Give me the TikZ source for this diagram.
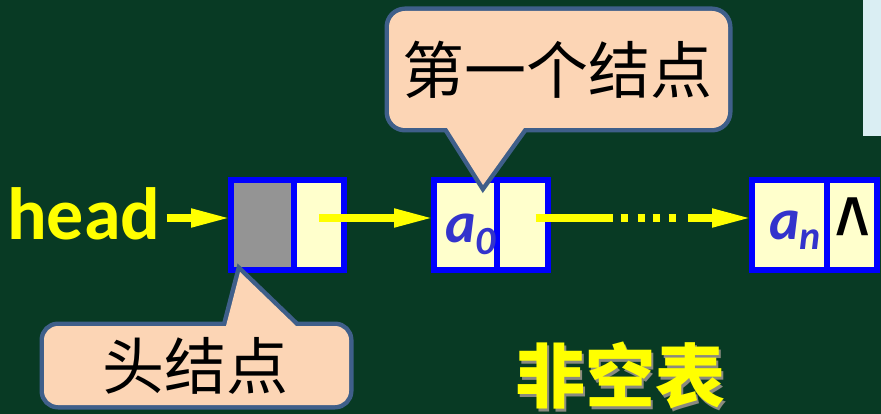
\documentclass[tikz,border=0pt]{standalone}
\usepackage{fontspec}
\setmainfont{Carlito}
\newfontfamily\cjk{Noto Sans CJK SC}
\newfontfamily\symf{Liberation Sans}
\usetikzlibrary{arrows.meta}
\definecolor{bg}{HTML}{083A24}
\definecolor{boxblue}{HTML}{0000FF}
\definecolor{cellfill}{HTML}{FFFFCC}
\definecolor{headgray}{HTML}{949494}
\definecolor{arrowyellow}{HTML}{FFFF00}
\definecolor{calfill}{HTML}{FCD5B5}
\definecolor{calborder}{HTML}{3F5F8A}
\definecolor{txtblue}{HTML}{3333CC}
\definecolor{paleblue}{HTML}{DAEEF3}
\definecolor{shadowgray}{HTML}{8A8A80}
\begin{document}
\begin{tikzpicture}[x=1pt,y=-1pt,
  cell/.style={draw=boxblue, fill=cellfill, line width=6pt, minimum height=90pt, inner sep=0pt, outer sep=0pt},
  arr/.style={draw=arrowyellow, line width=7.5pt, -{Triangle[length=40pt,width=17pt]}},
  calstroke/.style={draw=calborder, line width=9pt, line join=miter},
  calfil/.style={fill=calfill},
  cjktext/.style={inner sep=0pt, font=\cjk\fontsize{62}{62}\selectfont, text=black},
  lbl/.style={inner sep=0pt, text=txtblue, font=\bfseries\itshape\fontsize{58}{58}\selectfont}]
\fill[bg] (0,0) rectangle (881,414);
\useasboundingbox (0,0) rectangle (881,414);
\fill[paleblue] (863,0) rectangle (881,136);

% head label
\node[inner sep=0pt, anchor=base west, text=arrowyellow, font=\bfseries\fontsize{74}{74}\selectfont] (head) at (7,240) {head};

% cells
\node[cell, fill=headgray, minimum width=63pt] (n1a) at (262.5,225) {};
\node[cell, minimum width=50pt] (n1b) at (319,225) {};
\node[cell, minimum width=63pt] (n2a) at (465.5,225) {};
\node[cell, minimum width=51pt] (n2b) at (522.5,225) {};
\node[cell, minimum width=75pt] (n3a) at (789.5,225) {};
\node[cell, minimum width=50pt] (n3b) at (852,225) {};

\node[lbl, anchor=base west] (a0) at (445,243) {a\raisebox{-12pt}{\fontsize{40}{40}\selectfont 0}};
\node[lbl, anchor=base west] (an) at (769,240) {a\raisebox{-10pt}{\fontsize{40}{40}\selectfont n}};
\node[inner sep=0pt, font=\symf\bfseries\fontsize{62}{62}\selectfont] (nil) at (853,228) {\scalebox{0.95}[1.4]{\textasciicircum}};

% arrows
\draw[arr] ([xshift=6pt,yshift=22pt]head.base east) -- ([yshift=7pt]n1a.west);
\draw[arr] ([yshift=7pt]n1b.center) -- ([yshift=7pt]n2a.west);
\draw[arr, dash pattern=on 77pt off 8pt on 7pt off 10pt on 7pt off 8pt on 7pt off 9pt on 7pt off 12pt on 300pt] ([xshift=13pt,yshift=7pt]n2b.center) -- ([yshift=7pt]n3a.west);

% callout 1
\draw[calstroke, rounded corners=16pt] (389,11) rectangle (728,128);
\draw[calstroke] (447,128) -- (483,185) -- (524,128) -- cycle;
\fill[calfil, rounded corners=16pt] (389,11) rectangle (728,128);
\fill[calfil] (447,128) -- (483,185) -- (524,128) -- cycle;
\node[cjktext] (c1) at (557,70) {第一个结点};

% callout 2
\draw[calstroke, rounded corners=14pt] (44,326) rectangle (349,405);
\draw[calstroke] (226,326) -- (240,272) -- (296,326) -- cycle;
\fill[calfil, rounded corners=14pt] (44,326) rectangle (349,405);
\fill[calfil] (226,326) -- (240,272) -- (296,326) -- cycle;
\node[cjktext] (c2) at (195,366) {头结点};

% title
\node[inner sep=0pt, text=shadowgray, font=\cjk\bfseries\fontsize{70}{70}\selectfont] (tshadow) at (622.5,378.5) {非空表};
\node[inner sep=0pt, text=arrowyellow, font=\cjk\bfseries\fontsize{70}{70}\selectfont] (title) at (620,376) {非空表};
\end{tikzpicture}
\end{document}
